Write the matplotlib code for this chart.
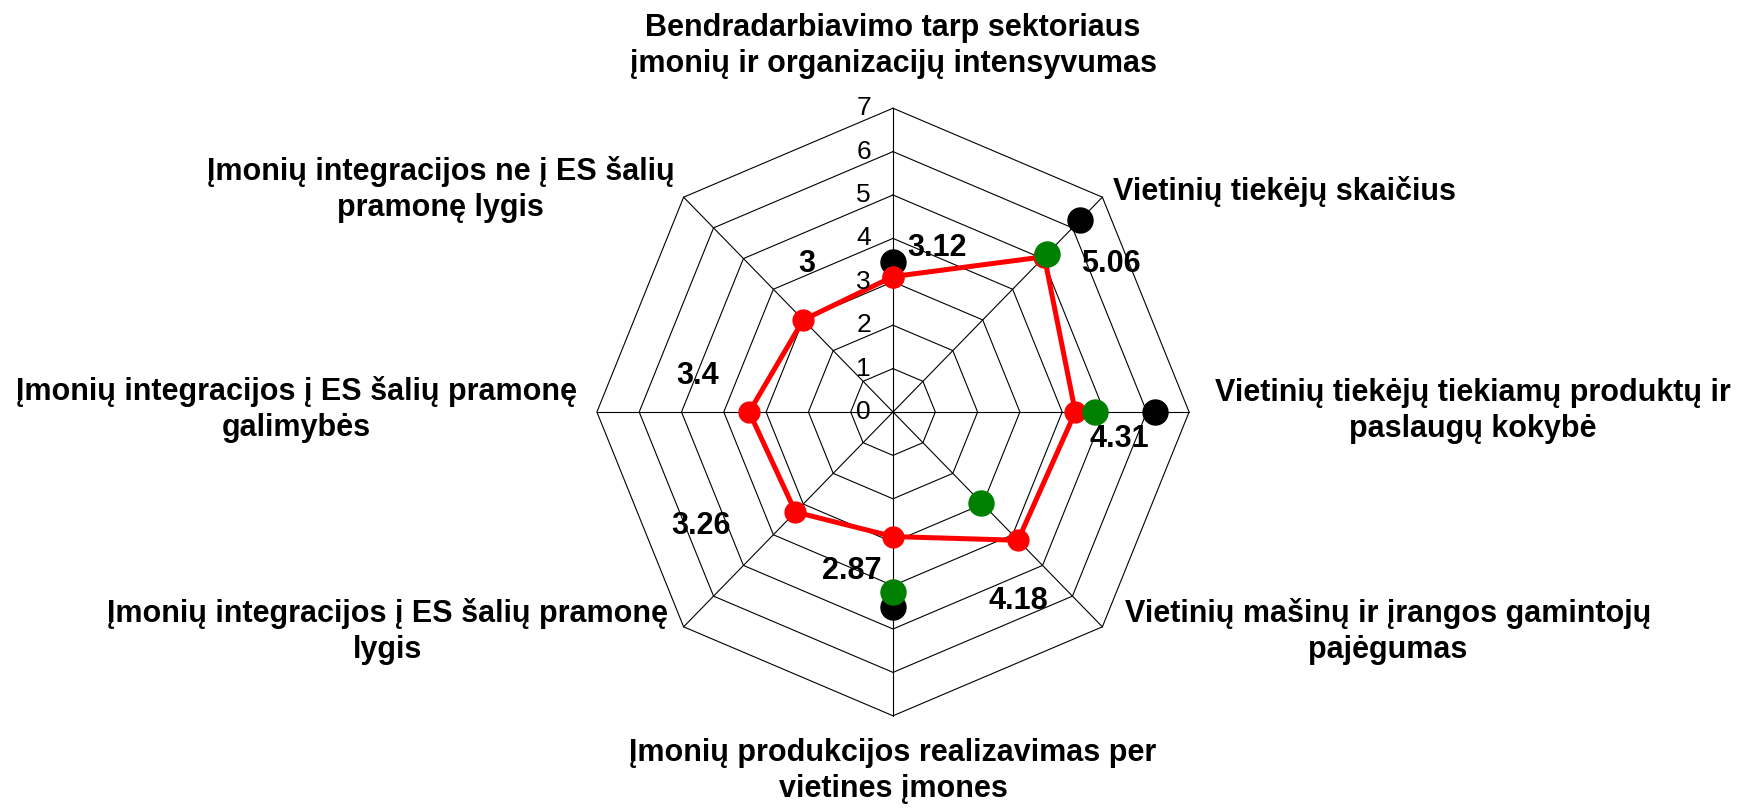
import numpy as np
import matplotlib
matplotlib.use("Agg")
import matplotlib.pyplot as plt

plt.rcParams["font.family"] = ["Liberation Sans", "DejaVu Sans"]

CATEGORIES = [
    "Bendradarbiavimo tarp sektoriaus\nįmonių ir organizacijų intensyvumas",
    "Vietinių tiekėjų skaičius",
    "Vietinių tiekėjų tiekiamų produktų ir\npaslaugų kokybė",
    "Vietinių mašinų ir įrangos gamintojų\npajėgumas",
    "Įmonių produkcijos realizavimas per\nvietines įmones",
    "Įmonių integracijos į ES šalių pramonę\nlygis",
    "Įmonių integracijos į ES šalių pramonę\ngalimybės",
    "Įmonių integracijos ne į ES šalių\npramonę lygis",
]
RED_VALUES = [3.12, 5.06, 4.31, 4.18, 2.87, 3.26, 3.4, 3.0]
BLACK_VALUES = [3.45, 6.25, 6.2, np.nan, 4.5, np.nan, np.nan, np.nan]
GREEN_VALUES = [np.nan, 5.15, 4.77, 2.95, 4.15, np.nan, np.nan, np.nan]
RING_TICKS = [0, 1, 2, 3, 4, 5, 6, 7]

# where the value labels and category labels sit (axis units)
VALUE_LABEL_POS = [(1.03, 3.79), (5.16, 3.40), (5.36, -0.63), (2.96, -4.35),
                   (-0.98, -3.66), (-4.53, -2.63), (-4.61, 0.83), (-2.05, 3.40)]
CAT_LABEL_POS = [(0, 8.43), (5.20, 5.08), (13.71, 0.02), (11.70, -5.05),
                 (0, -8.28), (-11.96, -5.05), (-14.11, 0.05), (-10.69, 5.12)]
CAT_HA = ["center", "left", "center", "center", "center", "center", "center", "center"]

n = len(CATEGORIES)
theta = np.arange(n) * 2 * np.pi / n


def to_xy(vals):
    v = np.asarray(vals, dtype=float)
    return v * np.sin(theta), v * np.cos(theta)


W, H = 1746, 810
cx, cy = 893, 412          # centre in pixels (from top-left)
sx, sy = 42.3, 43.4        # pixels per unit

fig = plt.figure(figsize=(W / 100, H / 100), dpi=100)
ax = fig.add_axes([0, 0, 1, 1])
ax.set_xlim(-cx / sx, (W - cx) / sx)
ax.set_ylim(-(H - cy) / sy, cy / sy)
ax.axis("off")

# octagon grid
for r in RING_TICKS[1:]:
    gx, gy = to_xy([r] * n)
    ax.plot(np.append(gx, gx[0]), np.append(gy, gy[0]), color="black", lw=0.8, zorder=1)
rmax = RING_TICKS[-1]
for t in theta:
    ax.plot([0, rmax * np.sin(t)], [0, rmax * np.cos(t)], color="black", lw=0.8, zorder=1)

# series
bx, by = to_xy(BLACK_VALUES)
ax.plot(bx, by, "o", color="black", ms=18, zorder=2)

rx, ry = to_xy(RED_VALUES)
ax.plot(np.append(rx, rx[0]), np.append(ry, ry[0]), "-o", color="#ff0000",
        lw=3.6, ms=15, zorder=3)

gx, gy = to_xy(GREEN_VALUES)
ax.plot(gx, gy, "o", color="#008000", ms=18, zorder=4)

# ring tick labels
for r in RING_TICKS:
    ax.text(-0.52, r, str(r), ha="right", va="center", fontsize=19, zorder=6)

# value labels
for v, (px, py) in zip(RED_VALUES, VALUE_LABEL_POS):
    ax.text(px, py, f"{v:g}", ha="center", va="center", fontsize=22,
            fontweight="bold", zorder=6)

# category labels
for lab, (px, py), ha in zip(CATEGORIES, CAT_LABEL_POS, CAT_HA):
    ax.text(px, py, lab, ha=ha, va="center", fontsize=22, fontweight="bold",
            multialignment="center", linespacing=1.25, zorder=6)

fig.savefig("out.png", dpi=100)
